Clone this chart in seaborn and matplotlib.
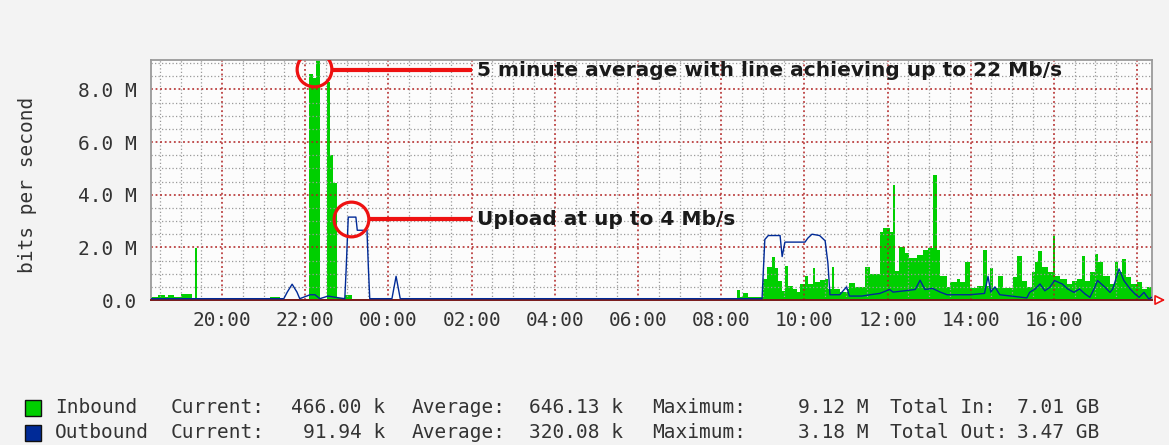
import numpy as np
import matplotlib
matplotlib.use("Agg")
import matplotlib.pyplot as plt
from matplotlib.patches import Rectangle
from matplotlib.ticker import MultipleLocator, FixedLocator
import seaborn as sns

# ---------------- data ----------------
# Inbound (bits/s, in M) -- step samples, clock time "HH:MM"
in_time = ["18:18", "18:28", "18:37", "18:42", "18:51", "19:00", "19:17", "19:21", "19:24",
           "20:59", "21:09", "21:24", "22:05", "22:11", "22:16", "22:21", "22:31", "22:35",
           "22:40", "22:46", "22:57", "23:07", "08:23", "08:27", "08:31", "08:39", "09:00",
           "09:06", "09:13", "09:18", "09:22", "09:28", "09:32", "09:36", "09:44", "09:49",
           "09:54", "10:01", "10:05", "10:12", "10:15", "10:22", "10:30", "10:34", "10:40",
           "10:43", "10:51", "11:03", "11:05", "11:13", "11:27", "11:35", "11:49", "11:53",
           "12:03", "12:08", "12:11", "12:16", "12:25", "12:31", "12:42", "12:51", "12:58",
           "13:05", "13:11", "13:16", "13:26", "13:30", "13:40", "13:44", "13:52", "13:59",
           "14:09", "14:18", "14:23", "14:28", "14:32", "14:39", "14:46", "15:01", "15:07",
           "15:14", "15:21", "15:28", "15:33", "15:37", "15:43", "15:51", "15:59", "16:01",
           "16:09", "16:19", "16:26", "16:33", "16:40", "16:45", "16:52", "16:59", "17:03",
           "17:11", "17:21", "17:28", "17:32", "17:38", "17:44", "17:52", "18:00", "18:07",
           "18:14", "18:21"]
in_val = [0.13, 0.20, 0.12, 0.19, 0.10, 0.24, 0.05, 1.96, 0.03,
          0.08, 0.12, 0.04, 8.60, 8.45, 9.12, 0.05, 8.30, 5.50,
          4.45, 0.08, 0.18, 0.04, 0.39, 0.12, 0.25, 0.12, 0.80,
          1.25, 1.63, 1.20, 0.74, 0.36, 1.30, 0.55, 0.42, 0.30,
          0.60, 0.93, 0.60, 1.20, 0.70, 0.75, 0.80, 0.40, 1.25,
          0.40, 0.30, 0.40, 0.64, 0.50, 1.27, 1.00, 2.60, 2.73,
          2.60, 4.37, 1.10, 2.00, 1.77, 1.58, 1.70, 1.90, 1.96,
          4.75, 1.90, 0.90, 0.50, 0.70, 0.80, 0.70, 1.44, 0.44,
          0.55, 1.90, 0.55, 1.20, 0.44, 0.90, 0.45, 0.86, 1.69,
          0.74, 0.48, 1.05, 1.43, 1.88, 1.24, 1.05, 2.45, 0.92,
          0.80, 0.61, 0.74, 0.80, 1.69, 0.74, 1.05, 1.75, 1.43,
          0.92, 0.61, 1.43, 1.05, 1.56, 0.86, 0.61, 0.67, 0.42,
          0.48, 0.48]

# Outbound (bits/s, in M) -- line samples
out_time = ["18:18", "21:29", "21:34", "21:41", "21:48", "21:52", "22:07", "22:14", "22:21",
            "22:33", "22:44", "22:57", "22:59", "23:02", "23:13", "23:15", "23:29", "23:31",
            "23:33", "00:05", "00:11", "00:17", "08:59", "09:03", "09:08", "09:25", "09:28",
            "09:32", "10:01", "10:05", "10:11", "10:22", "10:30", "10:34", "10:37", "10:51",
            "11:01", "11:05", "11:23", "11:35", "11:49", "12:03", "12:08", "12:25", "12:40",
            "12:47", "12:54", "13:05", "13:16", "13:26", "13:59", "14:20", "14:25", "14:29",
            "14:35", "14:42", "15:21", "15:25", "15:33", "15:40", "15:47", "15:54", "16:01",
            "16:12", "16:20", "16:29", "16:37", "16:45", "16:52", "16:59", "17:03", "17:14",
            "17:21", "17:25", "17:34", "17:41", "17:50", "17:57", "18:03", "18:10", "18:17",
            "18:21"]
out_val = [0.05, 0.05, 0.30, 0.60, 0.30, 0.05, 0.20, 0.20, 0.05,
           0.15, 0.10, 0.05, 1.20, 3.15, 3.15, 2.65, 2.65, 1.25,
           0.05, 0.05, 0.90, 0.05, 0.05, 2.30, 2.45, 2.45, 1.65,
           2.20, 2.20, 2.35, 2.50, 2.45, 2.25, 1.40, 0.20, 0.20,
           0.50, 0.15, 0.15, 0.20, 0.25, 0.40, 0.30, 0.35, 0.40,
           0.75, 0.40, 0.44, 0.30, 0.20, 0.20, 0.25, 0.90, 0.30,
           0.50, 0.20, 0.08, 0.29, 0.42, 0.61, 0.35, 0.48, 0.74,
           0.61, 0.42, 0.29, 0.42, 0.23, 0.10, 0.48, 0.74, 0.48,
           0.29, 0.42, 1.18, 0.74, 0.42, 0.23, 0.10, 0.29, 0.04,
           0.10]

x_ticks = [20, 22, 24, 26, 28, 30, 32, 34, 36, 38, 40, 42]
x_labels = ["20:00", "22:00", "00:00", "02:00", "04:00", "06:00", "08:00",
            "10:00", "12:00", "14:00", "16:00", ""]
y_ticks = [0, 2, 4, 6, 8]
y_labels = ["0.0", "2.0 M", "4.0 M", "6.0 M", "8.0 M"]

legend_names = ["Inbound", "Outbound"]
legend_current = ["466.00 k", "91.94 k"]
legend_average = ["646.13 k", "320.08 k"]
legend_maximum = ["9.12 M", "3.18 M"]
legend_total_lbl = ["Total In:", "Total Out:"]
legend_total = ["7.01 GB", "3.47 GB"]

note_peak = "5 minute average with line achieving up to 22 Mb/s"
note_up = "Upload at up to 4 Mb/s"


def to_hours(stamps):
    out, off, prev = [], 0.0, None
    for s in stamps:
        h, m = map(int, s.split(":"))
        v = h + m / 60.0
        if prev is not None and v < prev:
            off += 24.0
        prev = v
        out.append(v + off)
    return np.array(out)


IN_C = "#00CF00"
OUT_C = "#002A97"
RED = "#ee1111"
TXT = "#333333"

sns.set_style("white")
plt.rcParams["font.family"] = ["DejaVu Sans Mono", "DejaVu Sans"]

W, H = 1169, 445
fig = plt.figure(figsize=(W / 100, H / 100), dpi=100, facecolor="#f3f3f3")
ax = fig.add_axes([151 / W, 1 - 300 / H, (1152 - 151) / W, (300 - 60) / H])
ax.set_facecolor("#fcfcfc")

tin = to_hours(in_time)
vin = np.array(in_val)
tout = to_hours(out_time)
vout = np.array(out_val)

ax.fill_between(tin, 0, vin, step="post", color=IN_C, linewidth=0, zorder=1)
sns.lineplot(x=tout, y=vout, color=OUT_C, linewidth=1.0, ax=ax, zorder=3,
             estimator=None, sort=False)

ax.set_xlim(18.29, 42.36)
ax.set_ylim(0, 9.12)

ax.xaxis.set_major_locator(FixedLocator(x_ticks))
ax.set_xticklabels(x_labels)
ax.xaxis.set_minor_locator(MultipleLocator(0.5))
ax.yaxis.set_major_locator(FixedLocator(y_ticks))
ax.set_yticklabels(y_labels)
ax.yaxis.set_minor_locator(MultipleLocator(0.5))

ax.set_axisbelow("line")
ax.grid(which="major", color="#b02020", linestyle=(0, (1.2, 1.8)), linewidth=1.1)
ax.grid(which="minor", color="#9a9a9a", linestyle=(0, (1.0, 1.8)), linewidth=0.9)

ax.tick_params(axis="both", which="major", length=4, width=1, color="#a03030",
               labelsize=14, labelcolor=TXT)
ax.tick_params(axis="x", which="major", pad=4)
ax.tick_params(axis="y", which="major", pad=6)
ax.tick_params(axis="both", which="minor", length=2, width=0.8, color="#888888")

for side in ["top", "right", "left"]:
    ax.spines[side].set_color("#9a9a9a")
    ax.spines[side].set_linewidth(1.3)
ax.spines["bottom"].set_color("#7a1a1a")
ax.spines["bottom"].set_linewidth(1.4)

# arrow at end of x axis
ax.annotate("", xy=(1.016, 0), xycoords="axes fraction", xytext=(1.0, 0),
            textcoords="axes fraction",
            arrowprops=dict(arrowstyle="-|>,head_length=0.6,head_width=0.3",
                            color=RED, lw=1.2, fc="white"),
            annotation_clip=False)

ax.set_xlabel("")
ax.set_ylabel("")

# annotations
ax.plot([22.21], [8.78], marker="o", ms=25, mfc="none", mec=RED, mew=2.3, zorder=5)
ax.plot([22.63, 26.0], [8.73, 8.73], color=RED, lw=3, solid_capstyle="butt", zorder=5)
ax.text(26.12, 8.73, note_peak, ha="left", va="center", fontsize=14.5,
        fontweight="bold", family="DejaVu Sans", color="#1a1a1a", zorder=6)

ax.plot([23.09], [3.09], marker="o", ms=25, mfc="none", mec=RED, mew=2.3, zorder=5)
ax.plot([23.51, 26.0], [3.07, 3.07], color=RED, lw=3, solid_capstyle="butt", zorder=5)
ax.text(26.12, 3.07, note_up, ha="left", va="center", fontsize=14.5,
        fontweight="bold", family="DejaVu Sans", color="#1a1a1a", zorder=6)

# y label
fig.text(28 / W, 1 - 185 / H, "bits per second", rotation=90, ha="center",
         va="center", fontsize=14, color=TXT)

# legend block
def ft(px, py, s, ha="left"):
    fig.text(px / W, 1 - py / H, s, ha=ha, va="center", fontsize=14, color=TXT)

rows_y = [407.5, 432.5]
cols = [IN_C, OUT_C]
for i in range(2):
    py = rows_y[i]
    fig.patches.append(Rectangle(((33 - 8) / W, 1 - (py + 8) / H), 16 / W, 16 / H,
                                 transform=fig.transFigure, facecolor=cols[i],
                                 edgecolor="#111111", linewidth=1.0))
    ft(55, py, legend_names[i])
    ft(171, py, "Current:")
    ft(385, py, legend_current[i], ha="right")
    ft(412, py, "Average:")
    ft(623, py, legend_average[i], ha="right")
    ft(652, py, "Maximum:")
    ft(868, py, legend_maximum[i], ha="right")
    ft(890, py, legend_total_lbl[i])
    ft(1099, py, legend_total[i], ha="right")

fig.savefig("out.png", dpi=100, facecolor=fig.get_facecolor())
